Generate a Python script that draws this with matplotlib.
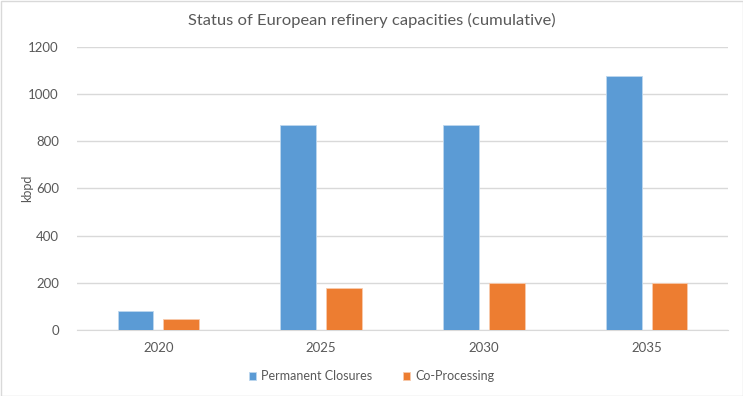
import matplotlib
matplotlib.use("Agg")
import matplotlib.pyplot as plt
import numpy as np

years = ["2020", "2025", "2030", "2035"]
permanent_closures = [82, 870, 870, 1078]
co_processing = [45, 177, 198, 198]
series_names = ["Permanent Closures", "Co-Processing"]
y_ticks = [0, 200, 400, 600, 800, 1000, 1200]

plt.rcParams['font.family'] = ['Lato', 'DejaVu Sans']
txt = '#595959'

fig = plt.figure(figsize=(7.43, 3.96), dpi=100)
ax = fig.add_axes([77/743, 1 - 330/396, (728-77)/743, (330-46.7)/396])

x = np.arange(len(years))
w = 0.22
off = 0.14
ax.bar(x - off, permanent_closures, w, color='#5B9BD5', edgecolor='#BDD7EE', linewidth=0.6, label=series_names[0], zorder=3)
ax.bar(x + off, co_processing, w, color='#ED7D31', edgecolor='#F8CBAD', linewidth=0.6, label=series_names[1], zorder=3)

ax.set_xlim(-0.5, len(years) - 0.5)
ax.set_ylim(0, 1200)
ax.set_yticks(y_ticks)
ax.set_xticks(x)
ax.set_xticklabels(years)
ax.yaxis.grid(True, color='#D9D9D9', linewidth=1)
ax.set_axisbelow(True)
for s in ['top', 'right', 'left']:
    ax.spines[s].set_visible(False)
ax.spines['bottom'].set_color('#D9D9D9')
ax.tick_params(axis='both', length=0, labelsize=9.5, colors=txt)
ax.tick_params(axis='y', pad=13)
ax.tick_params(axis='x', pad=9)
ax.set_ylabel('kbpd', fontsize=9, color=txt)
ax.yaxis.set_label_coords((33 - 77) / 651, 0.5)

fig.text(0.5, 1 - 20/396, 'Status of European refinery capacities (cumulative)', ha='center', va='center', fontsize=11.85, color=txt)

leg = fig.legend(loc='center', bbox_to_anchor=(0.5, 1 - 376/396), ncol=2, frameon=False, fontsize=9,
                 handlelength=0.6, handleheight=0.6, handletextpad=0.4, columnspacing=2.4)
for t in leg.get_texts():
    t.set_color(txt)

border = plt.Rectangle((0.5/743, 0.5/396), 1 - 1/743, 1 - 1/396, transform=fig.transFigure, fill=False, edgecolor='#D9D9D9', linewidth=1)
fig.patches.append(border)

fig.savefig('out.png', dpi=100)
